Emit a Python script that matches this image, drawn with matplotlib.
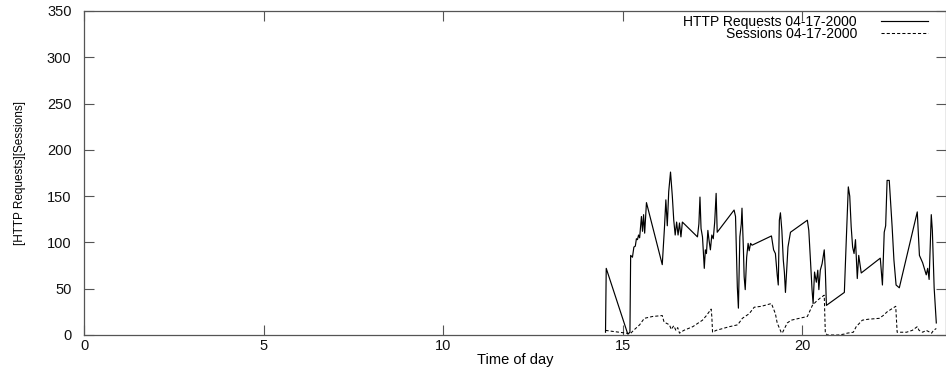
import matplotlib
matplotlib.use("Agg")
import matplotlib.pyplot as plt

# ---- data ----
req_t = [14.52, 14.54, 15.14, 15.2, 15.22, 15.27, 15.31, 15.35, 15.38, 15.41, 15.44, 15.47,
         15.52, 15.55, 15.58, 15.61, 15.66, 16.1, 16.16, 16.2, 16.24, 16.28, 16.33, 16.38,
         16.42, 16.46, 16.5, 16.54, 16.58, 16.62, 16.66, 17.08, 17.12, 17.15, 17.18, 17.22,
         17.25, 17.27, 17.3, 17.33, 17.37, 17.4, 17.44, 17.48, 17.52, 17.56, 17.6, 17.63,
         18.1, 18.14, 18.19, 18.22, 18.26, 18.3, 18.32, 18.36, 18.38, 18.41, 18.45, 18.49,
         18.52, 18.56, 18.6, 19.14, 19.2, 19.25, 19.3, 19.33, 19.36, 19.39, 19.43, 19.47,
         19.5, 19.53, 19.6, 19.67, 20.14, 20.18, 20.23, 20.27, 20.3, 20.34, 20.39, 20.43,
         20.46, 20.5, 20.55, 20.61, 20.64, 20.67, 21.17, 21.22, 21.28, 21.32, 21.36, 21.4,
         21.44, 21.48, 21.53, 21.57, 21.64, 22.17, 22.23, 22.28, 22.32, 22.36, 22.42, 22.5,
         22.55, 22.61, 22.7, 23.2, 23.26, 23.35, 23.45, 23.49, 23.53, 23.59, 23.62, 23.67,
         23.73]
req_v = [3, 72, 1, 3, 86, 84, 95, 96, 104, 103, 108, 105,
         128, 112, 130, 110, 143, 76, 115, 146, 118, 155, 176, 150,
         124, 108, 122, 108, 121, 106, 122, 106, 120, 149, 115, 106,
         86, 72, 92, 88, 113, 103, 92, 108, 104, 122, 153, 111,
         135, 128, 52, 29, 106, 120, 137, 92, 63, 49, 84, 99,
         91, 99, 97, 107, 92, 88, 65, 54, 124, 132, 113, 81,
         68, 46, 95, 111, 124, 113, 78, 49, 34, 68, 57, 70,
         49, 70, 77, 92, 70, 32, 46, 99, 160, 150, 117, 95,
         88, 103, 61, 86, 67, 83, 54, 111, 118, 167, 167, 117,
         81, 54, 51, 133, 86, 78, 65, 72, 60, 130, 113, 51,
         13]

ses_t = [14.52, 14.7, 14.9, 15.1, 15.2, 15.3, 15.47, 15.6, 15.83, 16.1, 16.15, 16.2,
         16.3, 16.35, 16.42, 16.48, 16.53, 16.58, 16.7, 16.95, 17.22, 17.33, 17.46, 17.48,
         17.5, 17.6, 17.97, 18.2, 18.33, 18.52, 18.66, 18.86, 19.14, 19.2, 19.25, 19.3,
         19.41, 19.44, 19.58, 19.69, 20.14, 20.28, 20.38, 20.5, 20.61, 20.64, 20.7, 21.0,
         21.17, 21.25, 21.42, 21.5, 21.67, 21.83, 22.14, 22.25, 22.36, 22.56, 22.6, 22.64,
         22.9, 23.06, 23.2, 23.25, 23.35, 23.45, 23.6, 23.65, 23.73]
ses_v = [5, 4, 3, 2, 1, 5, 11, 18, 20, 21, 14, 13,
         11, 6, 10, 5, 8, 2, 5, 9, 16, 21, 28, 20,
         3, 5, 9, 11, 18, 23, 30, 31, 34, 28, 23, 13,
         3, 2, 13, 16, 20, 32, 36, 40, 43, 2, 0, 0,
         1, 2, 3, 9, 16, 17, 18, 21, 25, 30, 31, 3,
         3, 5, 9, 5, 3, 5, 2, 5, 7]

x_ticks = [0, 5, 10, 15, 20]
y_ticks = [0, 50, 100, 150, 200, 250, 300, 350]
req_label = "HTTP Requests 04-17-2000"
ses_label = "Sessions 04-17-2000"
x_label = "Time of day"
y_label = "[HTTP Requests][Sessions]"

plt.rcParams['font.family'] = ['Liberation Sans', 'DejaVu Sans']

fig = plt.figure(figsize=(9.46, 3.76), dpi=100)
ax = fig.add_axes([84 / 946, 1 - 335 / 376, (946 - 84) / 946, (335 - 11) / 376])

ax.plot(req_t, req_v, color='black', lw=0.85, label=req_label)
ax.plot(ses_t, ses_v, color='black', lw=0.75, linestyle=(0, (3, 2)), label=ses_label)

ax.set_xlim(0, 24)
ax.set_ylim(0, 350)
ax.set_xticks(x_ticks)
ax.set_yticks(y_ticks)
ax.tick_params(direction='in', length=7, width=0.8, color='#555555',
               top=True, right=True, labelsize=10.5, labelcolor='#111111')
ax.tick_params(axis='x', pad=3)
ax.tick_params(axis='y', pad=9)
for s in ax.spines.values():
    s.set_color('#555555')
    s.set_linewidth(0.9)

ax.set_xlabel(x_label, fontsize=10.5, labelpad=0)
ax.set_ylabel(y_label, fontsize=8.5, labelpad=15)

leg = ax.legend(loc='upper right', bbox_to_anchor=(0.979, 0.988), frameon=False,
                fontsize=10, markerfirst=False, handlelength=3.4, handletextpad=1.7,
                borderaxespad=0, borderpad=0, labelspacing=-0.12)
for t in leg.get_texts():
    t.set_ha('right')
leg._legend_box.align = "right"

fig.savefig("out.png", dpi=100)
